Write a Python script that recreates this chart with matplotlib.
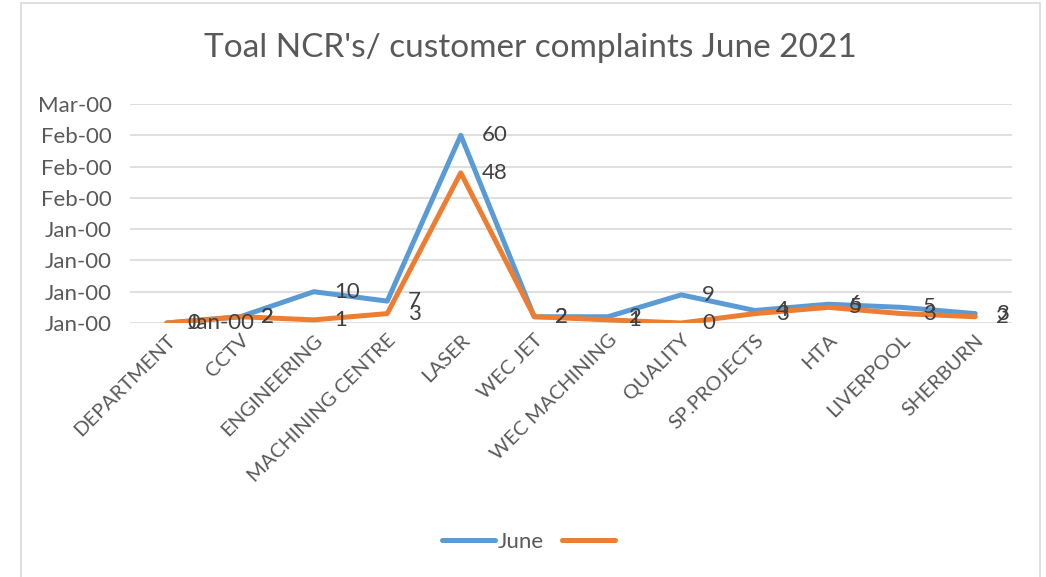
import matplotlib
matplotlib.use("Agg")
import matplotlib.pyplot as plt
from matplotlib.patches import Rectangle
from matplotlib.ticker import FixedLocator, FixedFormatter
from matplotlib.lines import Line2D

categories = ["DEPARTMENT", "CCTV", "ENGINEERING", "MACHINING CENTRE", "LASER",
              "WEC JET", "WEC MACHINING", "QUALITY", "SP.PROJECTS", "HTA",
              "LIVERPOOL", "SHERBURN"]
june = [0, 2, 10, 7, 60, 2, 2, 9, 4, 6, 5, 3]
second = [0, 2, 1, 3, 48, 2, 1, 0, 3, 5, 3, 2]
june_labels = ["0", "2", "10", "7", "60", "2", "2", "9", "4", "6", "5", "3"]
second_labels = ["Jan-00", "2", "1", "3", "48", "2", "1", "0", "3", "5", "3", "2"]
ytick_values = [0, 10, 20, 30, 40, 50, 60, 70]
ytick_labels = ["Jan-00", "Jan-00", "Jan-00", "Jan-00", "Feb-00", "Feb-00", "Feb-00", "Mar-00"]

plt.rcParams['font.family'] = ['Lato', 'DejaVu Sans']
TXT = "#595959"
BLUE = "#5B9BD5"
ORANGE = "#ED7D31"

W, H = 1046, 577
fig = plt.figure(figsize=(W / 100, H / 100), dpi=100)
fig.patches.append(Rectangle((21 / W, -0.01), (1040 - 21) / W, 1 - 3 / H + 0.01,
                             transform=fig.transFigure, fill=False,
                             edgecolor="#D9D9D9", linewidth=1.2))

ax = fig.add_axes([130 / W, 1 - 323 / H, (1012 - 130) / W, (323 - 104) / H])
x = list(range(len(categories)))
ax.plot(x, june, color=BLUE, linewidth=3.6, solid_capstyle="round", zorder=3)
ax.plot(x, second, color=ORANGE, linewidth=3.6, solid_capstyle="round", zorder=3)

for xi, v, t in zip(x, june, june_labels):
    ax.annotate(t, (xi, v), xytext=(15, 0), textcoords="offset points",
                ha="left", va="center", fontsize=16, color="#404040", zorder=4)
for xi, v, t in zip(x, second, second_labels):
    ax.annotate(t, (xi, v), xytext=(15, 0), textcoords="offset points",
                ha="left", va="center", fontsize=16, color="#404040", zorder=4)

ax.set_xlim(-0.5, len(categories) - 0.5)
ax.set_ylim(0, 70)
ax.yaxis.set_major_locator(FixedLocator(ytick_values))
ax.yaxis.set_major_formatter(FixedFormatter(ytick_labels))
ax.set_xticks(x)
ax.set_xticklabels(categories, rotation=45, ha="right", rotation_mode="anchor")
ax.tick_params(axis="y", length=0, labelsize=16, colors=TXT, pad=13)
ax.tick_params(axis="x", length=0, labelsize=14.5, colors=TXT, pad=6)
ax.grid(axis="y", color="#D9D9D9", linewidth=1.2)
ax.set_axisbelow(True)
for s in ax.spines.values():
    s.set_visible(False)

fig.text(530 / W, 1 - 48 / H, "Toal NCR's/ customer complaints June 2021",
         ha="center", va="center", fontsize=24, color=TXT)

handles = [Line2D([], [], color=BLUE, linewidth=3.6, solid_capstyle="round"),
           Line2D([], [], color=ORANGE, linewidth=3.6, solid_capstyle="round")]
fig.legend(handles, ["June", " "], loc="center", bbox_to_anchor=(533 / W, 1 - 542 / H),
           ncol=2, frameon=False, fontsize=16, labelcolor=TXT, handlelength=2.4,
           handletextpad=0.15, columnspacing=0.8)

fig.savefig("out.png", dpi=100)
